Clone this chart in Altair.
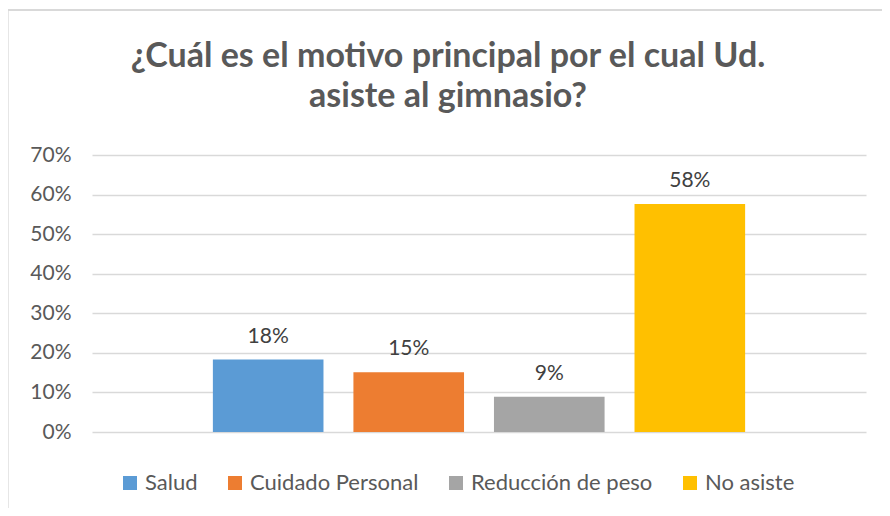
import altair as alt
import pandas as pd

series = ["Salud", "Cuidado Personal", "Reducción de peso", "No asiste"]
values = [0.183, 0.151, 0.089, 0.576]
colors = ["#5B9BD5", "#ED7D31", "#A5A5A5", "#FFC000"]
y_ticks = [0, 0.1, 0.2, 0.3, 0.4, 0.5, 0.6, 0.7]
title_lines = ["¿Cuál es el motivo principal por el cual Ud.", "asiste al gimnasio?"]

df = pd.DataFrame({"motivo": series, "valor": values})

FONT = "Lato"

x = alt.X("motivo:N", sort=series, axis=None,
          scale=alt.Scale(paddingInner=0.213, paddingOuter=0.86))
y = alt.Y("valor:Q", scale=alt.Scale(domain=[0, 0.7]),
          axis=alt.Axis(values=y_ticks, format=".0%", title=None, ticks=False,
                        domain=False, labelFontSize=21, labelColor="#595959",
                        labelPadding=21, gridColor="#D9D9D9", gridWidth=1.3,
                        labelFont=FONT))

border = alt.Chart().mark_rect(fill="transparent", stroke="#D9D9D9", strokeWidth=1.5).encode(
    x=alt.value(-84.5), x2=alt.value(820), y=alt.value(-145), y2=alt.value(380)
)

bars = alt.Chart().mark_bar().encode(
    x=x, y=y,
    color=alt.Color("motivo:N", sort=series,
                    scale=alt.Scale(domain=series, range=colors),
                    legend=alt.Legend(orient="none", legendX=27, legendY=317,
                                      direction="horizontal", title=None,
                                      symbolType="square", symbolSize=196,
                                      symbolStrokeWidth=0, labelFontSize=22,
                                      labelColor="#595959", labelFont=FONT,
                                      labelLimit=400,
                                      columnPadding=26, labelOffset=4, padding=0))
)

labels = alt.Chart().mark_text(dy=-17, baseline="alphabetic", fontSize=21,
                               color="#404040", font=FONT).encode(
    x=x, y=y, text=alt.Text("valor:Q", format=".0%")
)

chart = alt.layer(border, bars, labels, data=df).properties(
    width=774, height=277,
    padding={"left": 84, "top": 147, "right": 16, "bottom": 76},
    autosize=alt.AutoSizeParams(type="none"),
    title=alt.TitleParams(text=title_lines, fontSize=34, font=FONT, fontWeight="bold",
                          color="#595959", anchor="middle", lineHeight=40,
                          offset=0, dy=105, dx=-31),
).configure_view(strokeWidth=0)

chart.save("out.html", embed_options={"renderer": "svg", "actions": False})
